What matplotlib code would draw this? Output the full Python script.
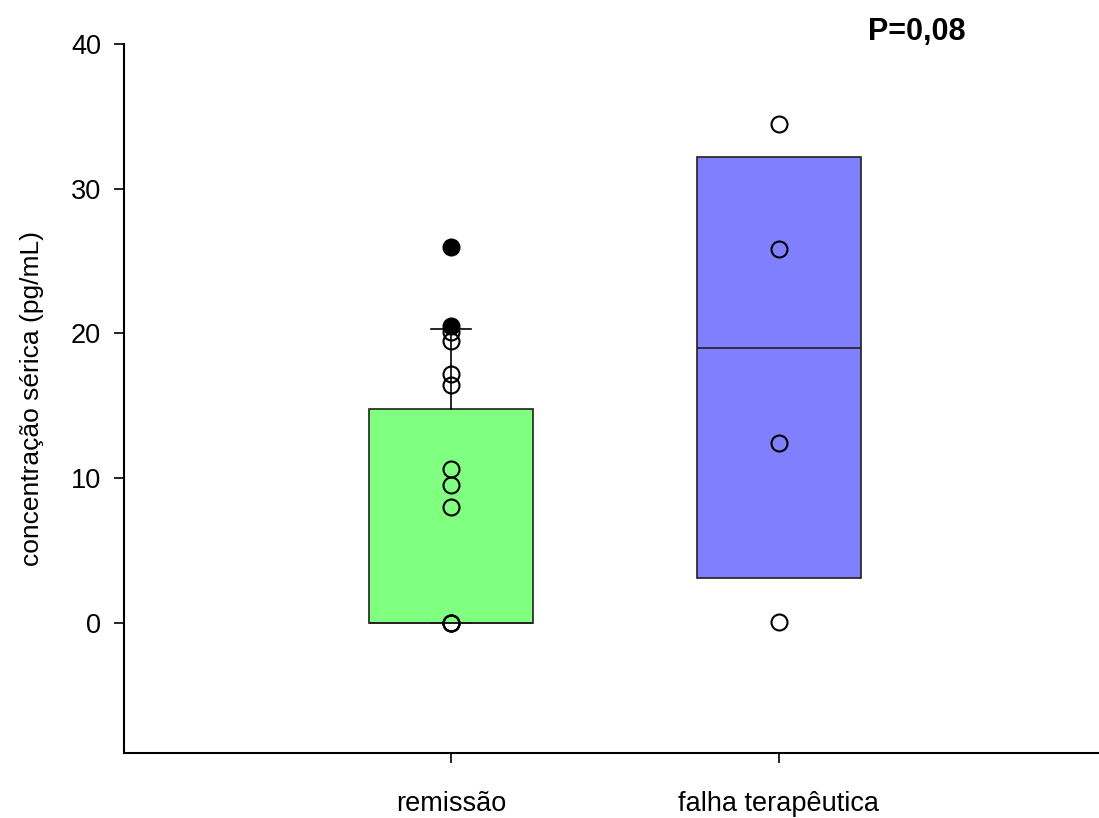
import matplotlib
matplotlib.use("Agg")
import matplotlib.pyplot as plt
import numpy as np

categories = ["remissão", "falha terapêutica"]
box_colors = ["#80FF80", "#8080FF"]

# box statistics (q1, median, q3, whisker low, whisker high)
q1 = [0.0, 3.1]
med = [0.0, 19.0]
q3 = [14.8, 32.2]
wlo = [0.0, 3.1]
whi = [20.3, 32.2]
show_caps = [True, False]

# individual points
pts_remissao_open = [0.0, 0.0, 0.0, 8.0, 9.5, 10.6, 16.4, 17.2, 19.5, 20.1]
pts_remissao_filled = [20.5, 26.0]
pts_falha_open = [0.05, 12.4, 25.8, 34.5]

plt.rcParams['font.family'] = ['Liberation Sans', 'DejaVu Sans']
fig = plt.figure(figsize=(10.99, 8.18), dpi=100)
ax = fig.add_axes([124/1099, 1-753/818, 1-124/1099, (753-44)/818])

positions = [1, 2]
stats = []
for i in range(2):
    stats.append(dict(q1=q1[i], med=med[i], q3=q3[i], whislo=wlo[i], whishi=whi[i], fliers=[]))

for i in range(2):
    ax.bxp([stats[i]], positions=[positions[i]], widths=0.5, patch_artist=True,
           showcaps=show_caps[i], showfliers=False,
           boxprops=dict(facecolor=box_colors[i], edgecolor='#202020', linewidth=1.2),
           medianprops=dict(color='#202020', linewidth=1.2),
           whiskerprops=dict(color='black', linewidth=1.2),
           capprops=dict(color='black', linewidth=1.2), capwidths=0.12,
           manage_ticks=False)

ms = 11.5
ax.plot([1]*len(pts_remissao_open), pts_remissao_open, 'o', ms=ms, mfc='none', mec='black', mew=1.5, zorder=5)
ax.plot([1]*len(pts_remissao_filled), pts_remissao_filled, 'o', ms=ms, mfc='black', mec='black', mew=1.5, zorder=6)
ax.plot([2]*len(pts_falha_open), pts_falha_open, 'o', ms=ms, mfc='none', mec='black', mew=1.5, zorder=5)

ax.set_xlim(1 - 327/328, 2 + 320/328)
ax.set_ylim(-9, 40)
ax.set_yticks([0, 10, 20, 30, 40])
ax.set_xticks(positions)
ax.set_xticklabels(categories)
ax.spines['top'].set_visible(False)
ax.spines['right'].set_visible(False)
for s in ['left', 'bottom']:
    ax.spines[s].set_linewidth(1.5)
ax.tick_params(axis='both', direction='out', length=7.5, width=1.2, labelsize=19.5)
ax.tick_params(axis='y', pad=9)
ax.tick_params(axis='x', pad=20)
ax.set_ylabel("concentração sérica (pg/mL)", fontsize=19, labelpad=19)

fig.text(917/1099, 1-32/818, "P=0,08", fontsize=22, fontweight='bold', ha='center', va='center')

fig.savefig("out.png", dpi=100)
